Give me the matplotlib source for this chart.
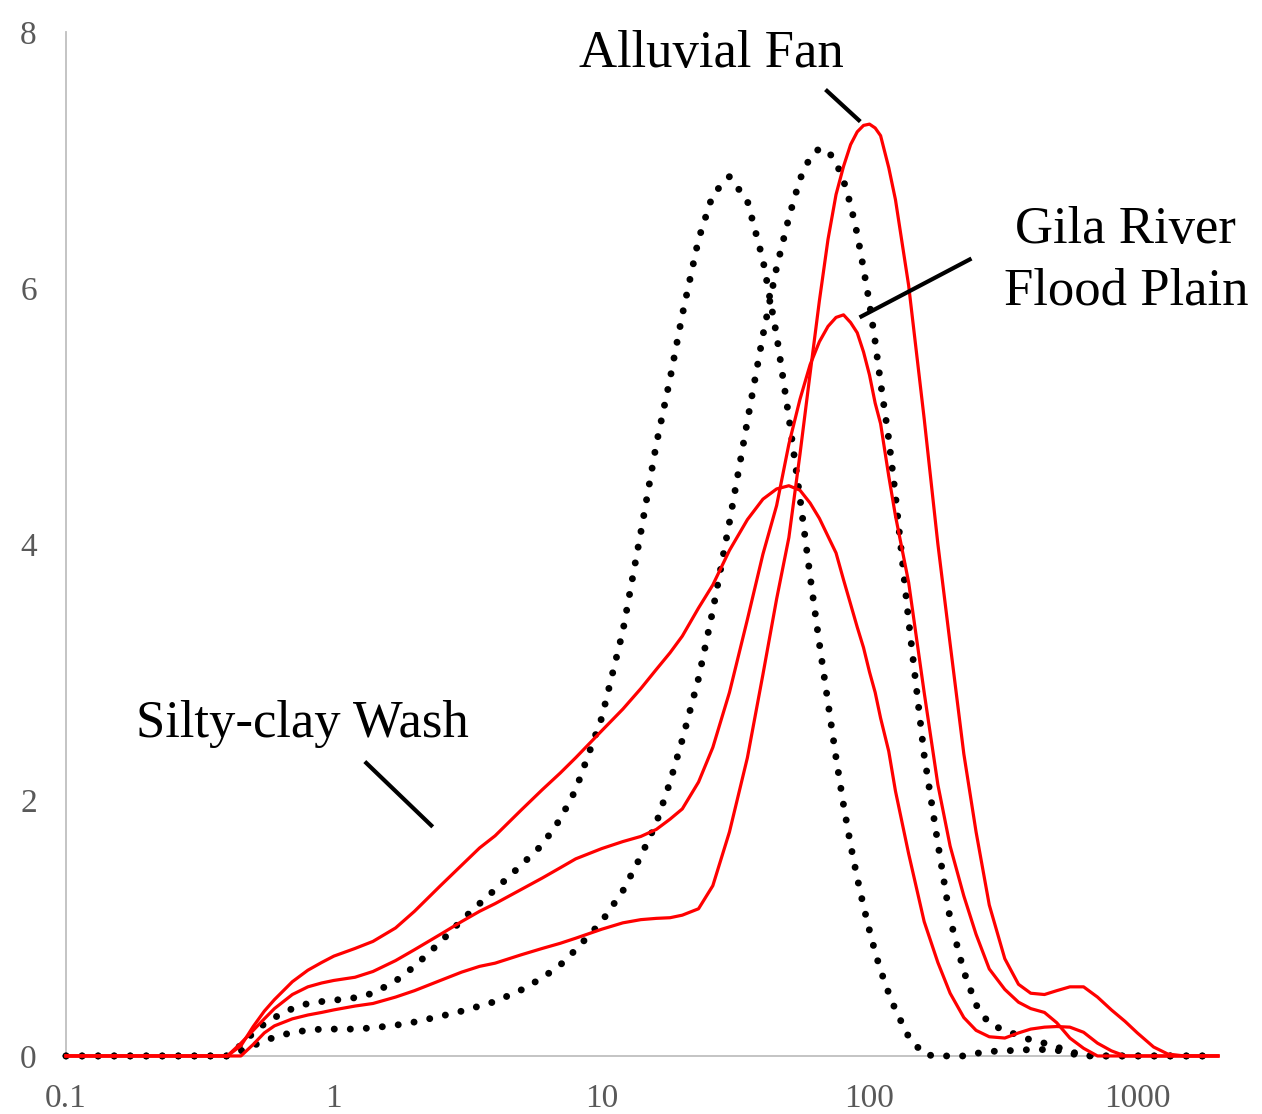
import matplotlib
matplotlib.use("Agg")
import matplotlib.pyplot as plt
from matplotlib.ticker import FixedLocator, FixedFormatter, NullLocator

# particle diameter classes (um) and volume percent per class
size_um = [0.1, 0.2, 0.3, 0.4, 0.45, 0.5, 0.55, 0.6, 0.7, 0.8, 0.9, 1.0,
           1.2, 1.4, 1.7, 2.0, 2.5, 3.0, 3.5, 4.0, 5.0, 6.0, 7.0, 8.0,
           10, 12, 14, 16, 18, 20, 23, 26, 30, 35, 40, 45, 50, 55, 60, 65,
           70, 75, 80, 85, 90, 95, 100, 105, 110, 118, 125, 140, 160, 180,
           200, 225, 250, 280, 320, 360, 400, 450, 500, 560, 630, 710, 800,
           900, 1000, 1150, 1300, 1500, 2000]

silty_clay_wash = [0, 0, 0, 0, 0.08, 0.23, 0.35, 0.44, 0.58, 0.67, 0.73, 0.78,
                   0.84, 0.895, 1.0, 1.13, 1.33, 1.49, 1.625, 1.72, 1.92, 2.08, 2.21, 2.33,
                   2.54, 2.71, 2.87, 3.02, 3.15, 3.28, 3.50, 3.68, 3.95, 4.19, 4.35, 4.43,
                   4.455, 4.42, 4.32, 4.20, 4.06, 3.93, 3.72, 3.53, 3.35, 3.19, 3.0, 2.84,
                   2.64, 2.38, 2.07, 1.58, 1.05, 0.73, 0.49, 0.30, 0.20, 0.15, 0.14, 0.18,
                   0.21, 0.225, 0.23, 0.225, 0.185, 0.10, 0.04, 0, 0, 0, 0, 0, 0]

gila_flood_plain = [0, 0, 0, 0, 0.10, 0.20, 0.29, 0.37, 0.48, 0.54, 0.57, 0.59,
                    0.615, 0.66, 0.745, 0.83, 0.95, 1.05, 1.13, 1.19, 1.30, 1.39, 1.47, 1.54,
                    1.62, 1.675, 1.715, 1.77, 1.85, 1.93, 2.14, 2.41, 2.84, 3.41, 3.92, 4.3,
                    4.78, 5.13, 5.40, 5.58, 5.70, 5.77, 5.79, 5.73, 5.65, 5.50, 5.32, 5.10,
                    4.94, 4.53, 4.22, 3.7, 2.84, 2.12, 1.64, 1.25, 0.95, 0.68, 0.52, 0.42,
                    0.37, 0.34, 0.26, 0.14, 0.06, 0, 0, 0, 0, 0, 0, 0, 0]

alluvial_fan = [0, 0, 0, 0, 0, 0.09, 0.18, 0.235, 0.29, 0.32, 0.34, 0.36,
                0.39, 0.41, 0.46, 0.51, 0.59, 0.655, 0.70, 0.725, 0.79, 0.84, 0.88, 0.92,
                0.99, 1.04, 1.065, 1.075, 1.08, 1.10, 1.15, 1.33, 1.75, 2.33, 2.98, 3.57,
                4.05, 4.70, 5.33, 5.90, 6.38, 6.73, 6.95, 7.12, 7.22, 7.27, 7.28, 7.25,
                7.19, 6.94, 6.69, 6.02, 4.98, 4.0, 3.22, 2.36, 1.75, 1.18, 0.76, 0.56,
                0.49, 0.48, 0.51, 0.54, 0.54, 0.46, 0.36, 0.27, 0.18, 0.07, 0.015, 0, 0]

ref_fine = [0, 0, 0, 0, 0.085, 0.18, 0.25, 0.30, 0.37, 0.41, 0.425, 0.435,
            0.455, 0.49, 0.585, 0.70, 0.89, 1.06, 1.19, 1.30, 1.49, 1.65, 1.85, 2.08,
            2.64, 3.32, 4.09, 4.78, 5.29, 5.79, 6.38, 6.73, 6.87, 6.68, 6.22, 5.63,
            4.99, 4.36, 3.75, 3.22, 2.76, 2.33, 1.96, 1.65, 1.39, 1.17, 0.98, 0.81,
            0.67, 0.49, 0.36, 0.15, 0.01, 0, 0, 0, 0.02, 0.035, 0.04, 0.045,
            0.05, 0.05, 0.045, 0.02, 0, 0, 0, 0, 0, 0, 0, 0, 0]

ref_coarse = [0, 0, 0, 0, 0.04, 0.08, 0.12, 0.145, 0.185, 0.20, 0.21, 0.21,
              0.21, 0.22, 0.24, 0.265, 0.31, 0.35, 0.39, 0.425, 0.515, 0.61, 0.71, 0.83,
              1.05, 1.29, 1.56, 1.82, 2.14, 2.47, 2.95, 3.48, 4.17, 4.96, 5.63, 6.16,
              6.55, 6.85, 7.02, 7.09, 7.07, 6.98, 6.84, 6.65, 6.42, 6.15, 5.88, 5.58,
              5.26, 4.82, 4.38, 3.4, 2.35, 1.66, 1.07, 0.66, 0.40, 0.25, 0.20, 0.16,
              0.125, 0.10, 0.07, 0.035, 0.005, 0, 0, 0, 0, 0, 0, 0, 0]

x_ticks = [0.1, 1, 10, 100, 1000]
x_tick_labels = ["0.1", "1", "10", "100", "1000"]
y_ticks = [0, 2, 4, 6, 8]

SERIF = ["Liberation Serif", "DejaVu Serif"]
AXIS_GREY = "#BFBFBF"
LABEL_GREY = "#595959"

fig = plt.figure(figsize=(12.62, 11.14), dpi=100)
ax = fig.add_axes([0.0523, 0.0521, 0.9128, 0.9192])

# round-dot series (dash of ~0 length with round caps)
dot_style = dict(color="black", lw=5.0, ls=(0, (0.01, 2.3)),
                 dash_capstyle="round", clip_on=False, zorder=3)
ax.plot(size_um, ref_fine, **dot_style)
ax.plot(size_um, ref_coarse, **dot_style)

red_style = dict(color="#FF0000", lw=2.3, clip_on=False, zorder=4,
                 solid_joinstyle="round")
for series in (silty_clay_wash, gila_flood_plain, alluvial_fan):
    ax.plot(size_um, series, **red_style)

ax.set_xscale("log")
ax.set_xlim(0.1, 2000)
ax.set_ylim(0, 8)
ax.xaxis.set_major_locator(FixedLocator(x_ticks))
ax.xaxis.set_major_formatter(FixedFormatter(x_tick_labels))
ax.xaxis.set_minor_locator(NullLocator())
ax.set_yticks(y_ticks)
ax.tick_params(axis="both", length=0, labelsize=24, labelcolor=LABEL_GREY)
ax.tick_params(axis="x", pad=20)
ax.tick_params(axis="y", pad=21)
for lab in ax.get_xticklabels() + ax.get_yticklabels():
    lab.set_family(SERIF)

for side in ("top", "right"):
    ax.spines[side].set_visible(False)
for side in ("left", "bottom"):
    ax.spines[side].set_color(AXIS_GREY)
    ax.spines[side].set_linewidth(1.3)

# callout labels with leader lines
txt = dict(fontsize=38, family=SERIF, color="black", ha="center", va="baseline")
ax.text(25.7, 7.727, "Alluvial Fan", **txt)
ax.text(906, 6.35, "Gila River", **txt)
ax.text(906, 5.87, "Flood Plain", **txt)
ax.text(0.763, 2.49, "Silty-clay Wash", **txt)

lead = dict(color="black", lw=3, solid_capstyle="butt", clip_on=False, zorder=5)
ax.plot([68.5, 92.4], [7.55, 7.30], **lead)
ax.plot([240.3, 91.8], [6.23, 5.77], **lead)
ax.plot([1.305, 2.34], [2.30, 1.79], **lead)

fig.savefig("out.png", dpi=100, facecolor="white")
